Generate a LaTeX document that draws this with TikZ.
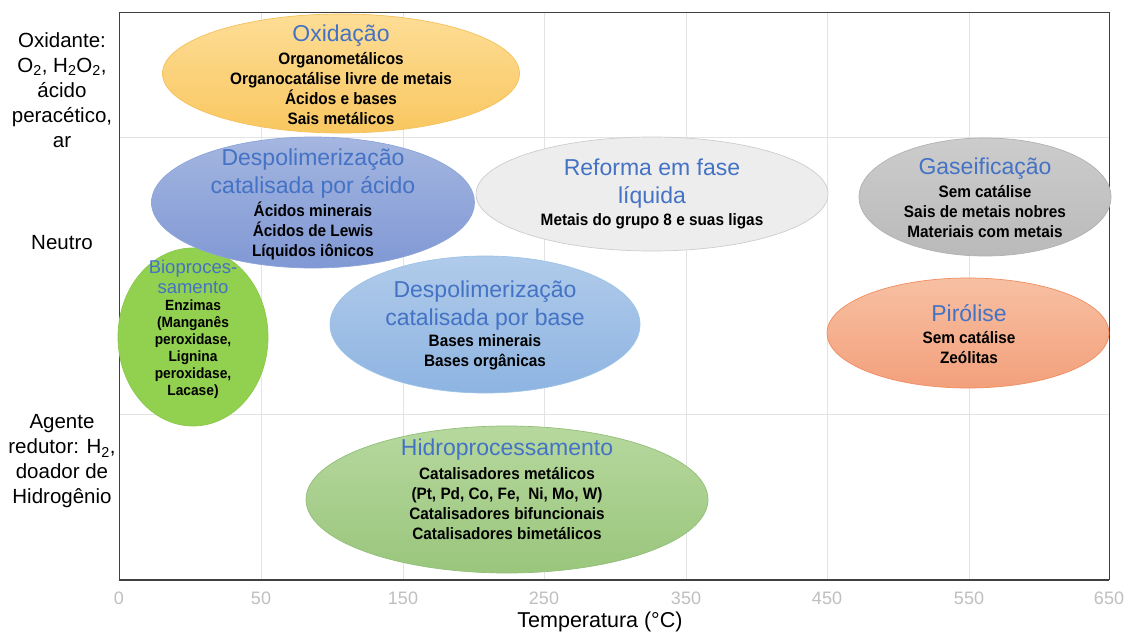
\documentclass[tikz,border=0pt]{standalone}
\usepackage{fontspec}
\setmainfont{Liberation Sans}
\newfontfamily\bodyfont[FakeStretch=0.93]{Liberation Sans}
\usetikzlibrary{shapes.geometric}
\definecolor{titleblue}{HTML}{4472C4}
\definecolor{gridc}{HTML}{E3E3E3}
\definecolor{framec}{HTML}{404040}
\definecolor{tickc}{HTML}{BFBFBF}
\tikzset{
  blob/.style={ellipse, inner sep=0pt, line width=0.7pt},
  ttl/.style={text=titleblue, font=\fontsize{23}{28}\selectfont, align=center, inner sep=0pt},
  bdy/.style={font=\bodyfont\bfseries\fontsize{16.5}{20}\selectfont, align=center, inner sep=0pt},
  ylab/.style={font=\fontsize{20.5}{25}\selectfont, align=center, inner sep=0pt},
  tick/.style={text=tickc, font=\fontsize{18}{20}\selectfont, inner sep=0pt},
  gridline/.style={draw=gridc, line width=0.8pt}
}
\begin{document}
\begin{tikzpicture}[x=1pt,y=-1pt]
\useasboundingbox[fill=white] (0,0) rectangle (1132,634);
% grid
\foreach \gx in {261,403,544,686,827,969}{
  \draw[gridline] (\gx,12) -- (\gx,580);
}
\draw[gridline] (119,137) -- (1109,137);
\draw[gridline] (119,414) -- (1109,414);
% frame
\draw[framec, line width=0.9pt] (119,580) -- (119,12) -- (1109,12) -- (1109,580);
\draw[framec, line width=1.6pt] (119,580) -- (1109,580);
% ellipses
\node[blob, minimum width=357pt, minimum height=119pt, top color={rgb,255:red,253;green,221;blue,150}, bottom color={rgb,255:red,249;green,199;blue,96}, draw={rgb,255:red,246;green,192;blue,90}] (oxi) at (341,73.5) {};
\node[blob, minimum width=150pt, minimum height=178pt, fill={rgb,255:red,146;green,208;blue,80}, draw={rgb,255:red,140;green,200;blue,76}] (bio) at (193,337) {};
\node[blob, minimum width=323pt, minimum height=131pt, top color={rgb,255:red,164;green,182;blue,224}, bottom color={rgb,255:red,128;green,152;blue,212}, draw={rgb,255:red,142;green,165;blue,218}] (acido) at (313,202.5) {};
\node[blob, minimum width=352pt, minimum height=114pt, fill={rgb,255:red,237;green,237;blue,237}, draw={rgb,255:red,205;green,205;blue,205}] (reforma) at (652,194) {};
\node[blob, minimum width=252pt, minimum height=118pt, top color={rgb,255:red,204;green,204;blue,204}, bottom color={rgb,255:red,186;green,186;blue,186}, draw={rgb,255:red,178;green,178;blue,178}] (gas) at (985,197) {};
\node[blob, minimum width=310pt, minimum height=137pt, top color={rgb,255:red,176;green,203;blue,234}, bottom color={rgb,255:red,142;green,180;blue,226}, draw={rgb,255:red,157;green,195;blue,230}] (base) at (485,324.5) {};
\node[blob, minimum width=282pt, minimum height=110pt, top color={rgb,255:red,247;green,192;blue,162}, bottom color={rgb,255:red,243;green,160;blue,124}, draw={rgb,255:red,240;green,140;blue,95}] (piro) at (968,333) {};
\node[blob, minimum width=402pt, minimum height=147pt, top color={rgb,255:red,182;green,216;blue,158}, bottom color={rgb,255:red,154;green,198;blue,124}, draw={rgb,255:red,146;green,190;blue,120}] (hidro) at (507,499.5) {};
% texts
\node[ttl] (oxiT) at (341,36) {Oxidação};
\node[bdy] (oxiB) at (341,89) {Organometálicos\\Organocatálise livre de metais\\Ácidos e bases\\Sais metálicos};
\node[ttl] (acidoT) at (313,174) {Despolimerização\\catalisada por ácido};
\node[bdy] (acidoB) at (313,231) {Ácidos minerais\\Ácidos de Lewis\\Líquidos iônicos};
\node[ttl] (reformaT) at (652,184) {Reforma em fase\\líquida};
\node[bdy] (reformaB) at (652,221) {Metais do grupo 8 e suas ligas};
\node[ttl] (gasT) at (985,169) {Gaseificação};
\node[bdy] (gasB) at (985,212) {Sem catálise\\Sais de metais nobres\\Materiais com metais};
\node[ttl, font=\fontsize{18.5}{20}\selectfont] (bioT) at (193,277) {Bioproces-\\samento};
\node[bdy, font=\bodyfont\bfseries\fontsize{14.8}{17}\selectfont] (bioB) at (193,349.5) {Enzimas\\(Manganês\\peroxidase,\\Lignina\\peroxidase,\\Lacase)};
\node[ttl] (baseT) at (485,306) {Despolimerização\\catalisada por base};
\node[bdy] (baseB) at (485,352) {Bases minerais\\Bases orgânicas};
\node[ttl] (piroT) at (969,313) {Pirólise};
\node[bdy] (piroB) at (969,347.5) {Sem catálise\\Zeólitas};
\node[ttl] (hidroT) at (507,450) {Hidroprocessamento};
\node[bdy] (hidroB) at (507,503.5) {Catalisadores metálicos\\(Pt, Pd, Co, Fe,\ \ Ni, Mo, W)\\Catalisadores bifuncionais\\Catalisadores bimetálicos};
% y labels
\node[ylab] (yox) at (62,90) {Oxidante:\\O\textsubscript{2}, H\textsubscript{2}O\textsubscript{2},\\ácido\\peracético,\\ar};
\node[ylab] (yneu) at (62,243) {Neutro};
\node[ylab] (yred) at (62,461.5) {Agente\\redutor: H\textsubscript{2},\\doador de\\Hidrogênio};
% ticks
\foreach \tx/\tl in {119/0,261/50,403/150,544/250,686/350,827/450,969/550,1109/650}{
  \node[tick] (t\tl) at (\tx,598) {\tl};
}
\node[ylab, font=\fontsize{21.5}{25}\selectfont] (xlab) at (600,622) {Temperatura (°C)};
\end{tikzpicture}
\end{document}
